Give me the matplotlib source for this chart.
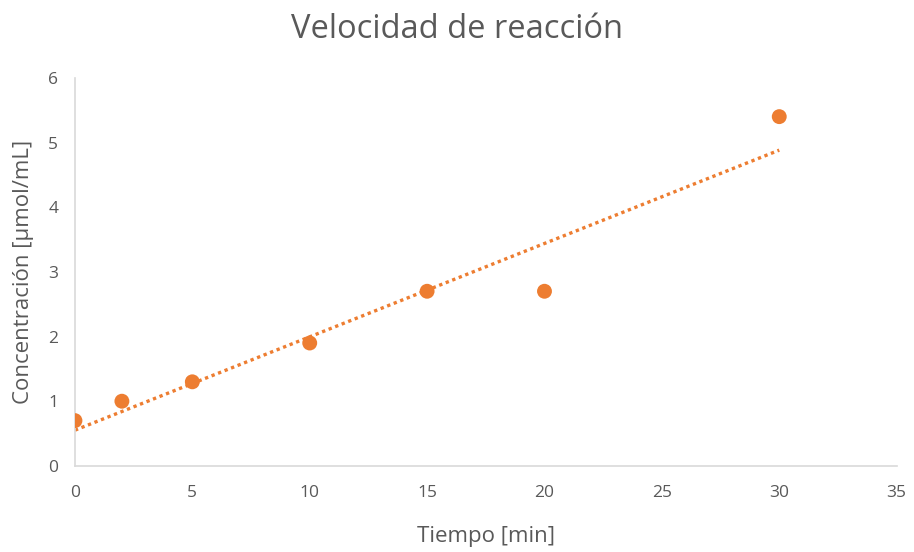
import numpy as np
import matplotlib.pyplot as plt

# Datos medidos
tiempo = [0, 2, 5, 10, 15, 20, 30]
concentracion = [0.7, 1.0, 1.3, 1.9, 2.7, 2.7, 5.4]

x_ticks = [0, 5, 10, 15, 20, 25, 30, 35]
y_ticks = [0, 1, 2, 3, 4, 5, 6]

naranja = '#ED7D31'
gris_texto = '#595959'
gris_eje = '#D9D9D9'

plt.rcParams['font.family'] = ['Open Sans', 'DejaVu Sans']

fig = plt.figure(figsize=(9.14, 5.52), dpi=100)
ax = fig.add_axes([0.082, 0.156, 0.899, 0.703])

# Línea de tendencia lineal (mínimos cuadrados)
m, b = np.polyfit(tiempo, concentracion, 1)
xt = np.array([min(tiempo), max(tiempo)])
ax.plot(xt, m * xt + b, color=naranja, linewidth=2.4, linestyle=(0, (1, 1.1)),
        dash_capstyle='butt', zorder=2)

ax.scatter(tiempo, concentracion, s=115, color=naranja, edgecolors='none', zorder=3)

ax.set_xlim(0, 35)
ax.set_ylim(0, 6)
ax.set_xticks(x_ticks)
ax.set_yticks(y_ticks)
ax.tick_params(length=0, labelsize=12.5, labelcolor=gris_texto)
ax.tick_params(axis='x', pad=14)
ax.tick_params(axis='y', pad=12)

for lado in ['top', 'right']:
    ax.spines[lado].set_visible(False)
for lado in ['left', 'bottom']:
    ax.spines[lado].set_color(gris_eje)
    ax.spines[lado].set_linewidth(1.2)

# Título centrado en la figura completa
fig.text(0.5, 0.947, 'Velocidad de reacción', fontsize=23.5, color=gris_texto,
         ha='center', va='center')
ax.set_xlabel('Tiempo [min]', fontsize=16, color=gris_texto, labelpad=18)
ax.set_ylabel('Concentración [µmol/mL]', fontsize=16, color=gris_texto, labelpad=10)

fig.savefig('out.png', dpi=100)
